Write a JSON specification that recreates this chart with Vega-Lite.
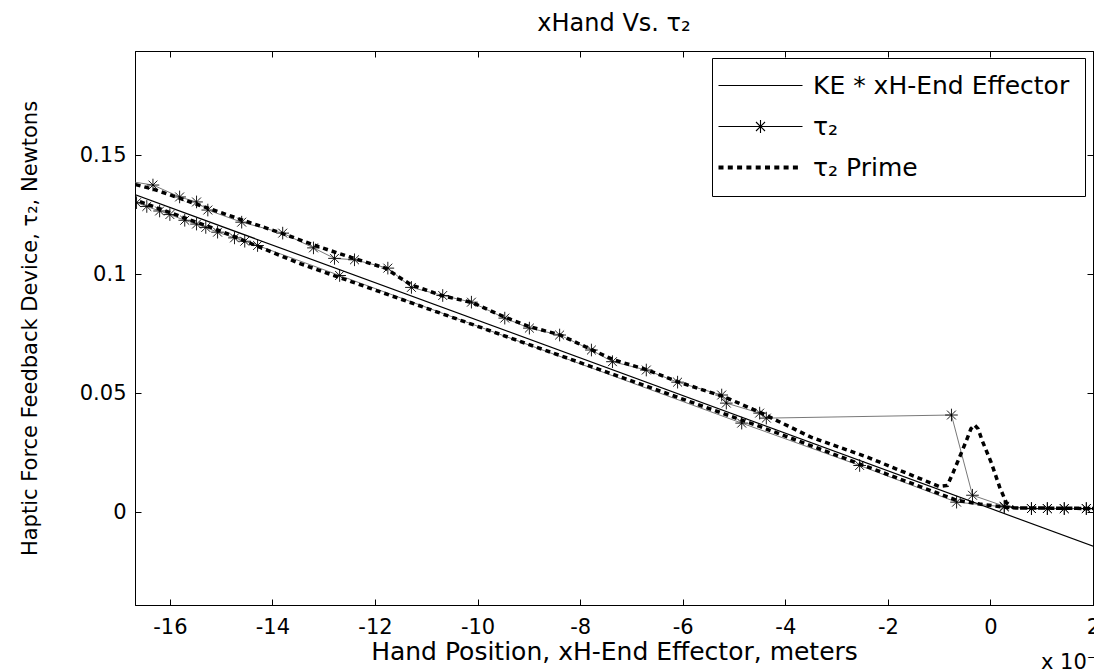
{
  "$schema": "https://vega.github.io/schema/vega-lite/v6.json",
  "width": 958,
  "height": 554,
  "autosize": {"type": "none"},
  "padding": {"left": 135, "top": 51, "right": 1, "bottom": 67},
  "background": "white",
  "config": {
    "view": {"stroke": "#000", "strokeWidth": 1},
    "font": "DejaVu Sans",
    "axis": {
      "grid": false,
      "domainColor": "#000",
      "tickColor": "#000",
      "labelColor": "#000",
      "titleColor": "#000",
      "labelFont": "DejaVu Sans",
      "labelFontSize": 21,
      "titleFont": "DejaVu Sans",
      "titleFontWeight": "normal",
      "tickSize": -6,
      "tickWidth": 1
    }
  },
  "title": {"text": "xHand Vs. τ₂", "fontSize": 24, "fontWeight": "normal", "font": "DejaVu Sans", "color": "#000", "offset": 15},
  "datasets": {
    "ke": [
      {"s": "KE", "i": 1, "x": -17.0, "y": 0.1359},
      {"s": "KE", "i": 2, "x": 2.3, "y": -0.0166}
    ],
    "tau": [
      {"s": "τ₂", "i": 1, "x": 2.3, "y": 0.0015},
      {"s": "τ₂", "i": 2, "x": 1.87, "y": 0.0015},
      {"s": "τ₂", "i": 3, "x": 1.44, "y": 0.0015},
      {"s": "τ₂", "i": 4, "x": 1.11, "y": 0.0015},
      {"s": "τ₂", "i": 5, "x": 0.80, "y": 0.0015},
      {"s": "τ₂", "i": 6, "x": 0.27, "y": 0.0022},
      {"s": "τ₂", "i": 7, "x": -0.66, "y": 0.0042},
      {"s": "τ₂", "i": 8, "x": -2.55, "y": 0.0196},
      {"s": "τ₂", "i": 9, "x": -4.85, "y": 0.0374},
      {"s": "τ₂", "i": 10, "x": -12.69, "y": 0.0994},
      {"s": "τ₂", "i": 11, "x": -14.29, "y": 0.1120},
      {"s": "τ₂", "i": 12, "x": -14.54, "y": 0.1138},
      {"s": "τ₂", "i": 13, "x": -14.74, "y": 0.1152},
      {"s": "τ₂", "i": 14, "x": -15.07, "y": 0.1176},
      {"s": "τ₂", "i": 15, "x": -15.30, "y": 0.1196},
      {"s": "τ₂", "i": 16, "x": -15.48, "y": 0.1210},
      {"s": "τ₂", "i": 17, "x": -15.71, "y": 0.1226},
      {"s": "τ₂", "i": 18, "x": -16.00, "y": 0.1250},
      {"s": "τ₂", "i": 19, "x": -16.20, "y": 0.1265},
      {"s": "τ₂", "i": 20, "x": -16.45, "y": 0.1284},
      {"s": "τ₂", "i": 21, "x": -16.65, "y": 0.1300},
      {"s": "τ₂", "i": 22, "x": -16.95, "y": 0.1325},
      {"s": "τ₂", "i": 23, "x": -16.95, "y": 0.1395},
      {"s": "τ₂", "i": 24, "x": -16.33, "y": 0.1374},
      {"s": "τ₂", "i": 25, "x": -15.81, "y": 0.1324},
      {"s": "τ₂", "i": 26, "x": -15.48, "y": 0.1303},
      {"s": "τ₂", "i": 27, "x": -15.26, "y": 0.1269},
      {"s": "τ₂", "i": 28, "x": -14.60, "y": 0.1218},
      {"s": "τ₂", "i": 29, "x": -13.80, "y": 0.1172},
      {"s": "τ₂", "i": 30, "x": -13.20, "y": 0.1110},
      {"s": "τ₂", "i": 31, "x": -12.79, "y": 0.1066},
      {"s": "τ₂", "i": 32, "x": -12.40, "y": 0.1060},
      {"s": "τ₂", "i": 33, "x": -11.75, "y": 0.1025},
      {"s": "τ₂", "i": 34, "x": -11.29, "y": 0.0944},
      {"s": "τ₂", "i": 35, "x": -10.68, "y": 0.0910},
      {"s": "τ₂", "i": 36, "x": -10.12, "y": 0.0882},
      {"s": "τ₂", "i": 37, "x": -9.47, "y": 0.0815},
      {"s": "τ₂", "i": 38, "x": -8.99, "y": 0.0773},
      {"s": "τ₂", "i": 39, "x": -8.40, "y": 0.0744},
      {"s": "τ₂", "i": 40, "x": -7.78, "y": 0.0681},
      {"s": "τ₂", "i": 41, "x": -7.37, "y": 0.0632},
      {"s": "τ₂", "i": 42, "x": -6.71, "y": 0.0597},
      {"s": "τ₂", "i": 43, "x": -6.10, "y": 0.0546},
      {"s": "τ₂", "i": 44, "x": -5.24, "y": 0.0492},
      {"s": "τ₂", "i": 45, "x": -5.15, "y": 0.0458},
      {"s": "τ₂", "i": 46, "x": -4.50, "y": 0.0416},
      {"s": "τ₂", "i": 47, "x": -4.37, "y": 0.0395},
      {"s": "τ₂", "i": 48, "x": -0.76, "y": 0.0408},
      {"s": "τ₂", "i": 49, "x": -0.35, "y": 0.0071},
      {"s": "τ₂", "i": 50, "x": 0.27, "y": 0.0025},
      {"s": "τ₂", "i": 51, "x": 0.80, "y": 0.0015},
      {"s": "τ₂", "i": 52, "x": 1.11, "y": 0.0015},
      {"s": "τ₂", "i": 53, "x": 1.44, "y": 0.0015},
      {"s": "τ₂", "i": 54, "x": 1.87, "y": 0.0015},
      {"s": "τ₂", "i": 55, "x": 2.3, "y": 0.0015}
    ],
    "taup": [
      {"s": "τ₂ Prime", "i": 1, "x": 2.3, "y": 0.0015},
      {"s": "τ₂ Prime", "i": 2, "x": 0.45, "y": 0.0018},
      {"s": "τ₂ Prime", "i": 3, "x": 0.27, "y": 0.0021},
      {"s": "τ₂ Prime", "i": 4, "x": -0.21, "y": 0.0034},
      {"s": "τ₂ Prime", "i": 5, "x": -0.66, "y": 0.0050},
      {"s": "τ₂ Prime", "i": 6, "x": -2.16, "y": 0.0171},
      {"s": "τ₂ Prime", "i": 7, "x": -4.5, "y": 0.0360},
      {"s": "τ₂ Prime", "i": 8, "x": -8.0, "y": 0.0628},
      {"s": "τ₂ Prime", "i": 9, "x": -11.5, "y": 0.0895},
      {"s": "τ₂ Prime", "i": 10, "x": -13.5, "y": 0.1047},
      {"s": "τ₂ Prime", "i": 11, "x": -15.0, "y": 0.1180},
      {"s": "τ₂ Prime", "i": 12, "x": -16.95, "y": 0.1333},
      {"s": "τ₂ Prime", "i": 13, "x": -16.95, "y": 0.1392},
      {"s": "τ₂ Prime", "i": 14, "x": -16.3, "y": 0.1355},
      {"s": "τ₂ Prime", "i": 15, "x": -15.8, "y": 0.1318},
      {"s": "τ₂ Prime", "i": 16, "x": -15.3, "y": 0.1280},
      {"s": "τ₂ Prime", "i": 17, "x": -14.6, "y": 0.1228},
      {"s": "τ₂ Prime", "i": 18, "x": -13.8, "y": 0.1170},
      {"s": "τ₂ Prime", "i": 19, "x": -13.1, "y": 0.1115},
      {"s": "τ₂ Prime", "i": 20, "x": -12.4, "y": 0.1065},
      {"s": "τ₂ Prime", "i": 21, "x": -11.8, "y": 0.1025},
      {"s": "τ₂ Prime", "i": 22, "x": -11.3, "y": 0.0955},
      {"s": "τ₂ Prime", "i": 23, "x": -10.7, "y": 0.0910},
      {"s": "τ₂ Prime", "i": 24, "x": -10.1, "y": 0.0880},
      {"s": "τ₂ Prime", "i": 25, "x": -9.5, "y": 0.0822},
      {"s": "τ₂ Prime", "i": 26, "x": -9.0, "y": 0.0780},
      {"s": "τ₂ Prime", "i": 27, "x": -8.4, "y": 0.0745},
      {"s": "τ₂ Prime", "i": 28, "x": -7.8, "y": 0.0685},
      {"s": "τ₂ Prime", "i": 29, "x": -7.35, "y": 0.0640},
      {"s": "τ₂ Prime", "i": 30, "x": -6.7, "y": 0.0598},
      {"s": "τ₂ Prime", "i": 31, "x": -6.1, "y": 0.0548},
      {"s": "τ₂ Prime", "i": 32, "x": -5.2, "y": 0.0485},
      {"s": "τ₂ Prime", "i": 33, "x": -4.5, "y": 0.0420},
      {"s": "τ₂ Prime", "i": 34, "x": -3.5, "y": 0.0315},
      {"s": "τ₂ Prime", "i": 35, "x": -2.4, "y": 0.0231},
      {"s": "τ₂ Prime", "i": 36, "x": -1.0, "y": 0.0108},
      {"s": "τ₂ Prime", "i": 37, "x": -0.84, "y": 0.0112},
      {"s": "τ₂ Prime", "i": 38, "x": -0.72, "y": 0.0170},
      {"s": "τ₂ Prime", "i": 39, "x": -0.6, "y": 0.0232},
      {"s": "τ₂ Prime", "i": 40, "x": -0.47, "y": 0.0300},
      {"s": "τ₂ Prime", "i": 41, "x": -0.38, "y": 0.0350},
      {"s": "τ₂ Prime", "i": 42, "x": -0.31, "y": 0.0366},
      {"s": "τ₂ Prime", "i": 43, "x": -0.24, "y": 0.0350},
      {"s": "τ₂ Prime", "i": 44, "x": -0.16, "y": 0.0300},
      {"s": "τ₂ Prime", "i": 45, "x": 0.02, "y": 0.0206},
      {"s": "τ₂ Prime", "i": 46, "x": 0.18, "y": 0.0105},
      {"s": "τ₂ Prime", "i": 47, "x": 0.31, "y": 0.0040},
      {"s": "τ₂ Prime", "i": 48, "x": 0.45, "y": 0.0018},
      {"s": "τ₂ Prime", "i": 49, "x": 2.3, "y": 0.0015}
    ],
    "note": [{"t": "x 10⁻⁴"}]
  },
  "layer": [
    {
      "data": {"name": "ke"},
      "mark": {"type": "line", "color": "#000", "strokeWidth": 1.2, "clip": true},
      "encoding": {
        "x": {"field": "x", "type": "quantitative", "scale": {"domain": [-16.68, 2], "nice": false, "zero": false},
          "axis": {"orient": "bottom", "values": [-16, -14, -12, -10, -8, -6, -4, -2, 0, 2], "labelExpr": "'' + datum.value", "title": "Hand Position, xH-End Effector, meters", "titleFontSize": 25, "labelPadding": 17, "titlePadding": 2, "labelFlush": false}},
        "y": {"field": "y", "type": "quantitative", "scale": {"domain": [-0.039, 0.1937], "nice": false, "zero": false},
          "axis": {"orient": "left", "values": [0, 0.05, 0.1, 0.15], "labelExpr": "'' + datum.value", "title": "Haptic Force Feedback Device, τ₂, Newtons", "titleFontSize": 21, "labelPadding": 15, "titlePadding": 39}},
        "order": {"field": "i", "type": "quantitative"}
      }
    },
    {
      "data": {"name": "tau"},
      "mark": {"type": "line", "color": "#555", "strokeWidth": 0.8, "clip": true},
      "encoding": {
        "x": {"field": "x", "type": "quantitative", "scale": {"domain": [-16.68, 2], "nice": false, "zero": false}, "axis": null},
        "y": {"field": "y", "type": "quantitative", "scale": {"domain": [-0.039, 0.1937], "nice": false, "zero": false}, "axis": null},
        "order": {"field": "i", "type": "quantitative"}
      }
    },
    {
      "data": {"name": "tau"},
      "mark": {"type": "point", "shape": "M-1,0L1,0M0,-1L0,1M-0.7,-0.7L0.7,0.7M-0.7,0.7L0.7,-0.7", "size": 160, "filled": false, "color": "#000", "strokeWidth": 0.9, "opacity": 1, "clip": true},
      "encoding": {
        "x": {"field": "x", "type": "quantitative", "scale": {"domain": [-16.68, 2], "nice": false, "zero": false}, "axis": null},
        "y": {"field": "y", "type": "quantitative", "scale": {"domain": [-0.039, 0.1937], "nice": false, "zero": false}, "axis": null}
      }
    },
    {
      "data": {"name": "taup"},
      "mark": {"type": "line", "color": "#000", "strokeWidth": 3.5, "strokeDash": [5, 4], "clip": true},
      "encoding": {
        "x": {"field": "x", "type": "quantitative", "scale": {"domain": [-16.68, 2], "nice": false, "zero": false},
          "axis": {"orient": "top", "values": [-16, -14, -12, -10, -8, -6, -4, -2, 0, 2], "labels": false, "title": null, "domain": true}},
        "y": {"field": "y", "type": "quantitative", "scale": {"domain": [-0.039, 0.1937], "nice": false, "zero": false},
          "axis": {"orient": "right", "values": [0, 0.05, 0.1, 0.15], "labels": false, "title": null, "domain": true}},
        "order": {"field": "i", "type": "quantitative"}
      }
    },
    {
      "data": {"name": "tau"},
      "mark": {"type": "point", "filled": false, "color": "#000", "opacity": 0, "clip": true},
      "encoding": {
        "x": {"field": "x", "type": "quantitative", "scale": {"domain": [-16.68, 2], "nice": false, "zero": false}, "axis": null},
        "y": {"field": "y", "type": "quantitative", "scale": {"domain": [-0.039, 0.1937], "nice": false, "zero": false}, "axis": null},
        "shape": {"field": "s", "type": "nominal",
          "scale": {"domain": ["KE * xH-End Effector", "τ₂", "τ₂ Prime"],
            "range": [
              "M-2.1,0L6.3,0",
              "M-2.1,0L6.3,0M1.45,0L2.75,0M2.1,-0.65L2.1,0.65M1.65,-0.45L2.55,0.45M1.65,0.45L2.55,-0.45",
              "M-2.1,-0.15h0.5M-2.1,-0.05h0.5M-2.1,0.05h0.5M-2.1,0.15h0.5M-1.17,-0.15h0.5M-1.17,-0.05h0.5M-1.17,0.05h0.5M-1.17,0.15h0.5M-0.24,-0.15h0.5M-0.24,-0.05h0.5M-0.24,0.05h0.5M-0.24,0.15h0.5M0.69,-0.15h0.5M0.69,-0.05h0.5M0.69,0.05h0.5M0.69,0.15h0.5M1.62,-0.15h0.5M1.62,-0.05h0.5M1.62,0.05h0.5M1.62,0.15h0.5M2.55,-0.15h0.5M2.55,-0.05h0.5M2.55,0.05h0.5M2.55,0.15h0.5M3.48,-0.15h0.5M3.48,-0.05h0.5M3.48,0.05h0.5M3.48,0.15h0.5M4.41,-0.15h0.5M4.41,-0.05h0.5M4.41,0.05h0.5M4.41,0.15h0.5M5.34,-0.15h0.5M5.34,-0.05h0.5M5.34,0.05h0.5M5.34,0.15h0.5"
            ]},
          "legend": {"orient": "none", "legendX": 577, "legendY": 7, "title": null, "symbolSize": 400, "symbolStrokeWidth": 1.1, "symbolStrokeColor": "#000", "symbolOpacity": 1, "labelFontSize": 25, "labelFont": "DejaVu Sans", "labelColor": "#000", "labelLimit": 0, "labelOffset": 61, "strokeColor": "#000", "fillColor": "#fff", "padding": 15, "rowPadding": 15}
        }
      }
    },
    {
      "data": {"name": "note"},
      "mark": {"type": "text", "align": "left", "baseline": "middle", "dx": -52, "dy": 58, "fontSize": 21, "font": "DejaVu Sans", "color": "#000", "clip": false},
      "encoding": {
        "x": {"datum": 2, "type": "quantitative", "scale": {"domain": [-16.68, 2], "nice": false, "zero": false}, "axis": null},
        "y": {"datum": -0.039, "type": "quantitative", "scale": {"domain": [-0.039, 0.1937], "nice": false, "zero": false}, "axis": null},
        "text": {"field": "t"}
      }
    }
  ],
  "resolve": {"scale": {"x": "independent", "y": "independent"}}
}
